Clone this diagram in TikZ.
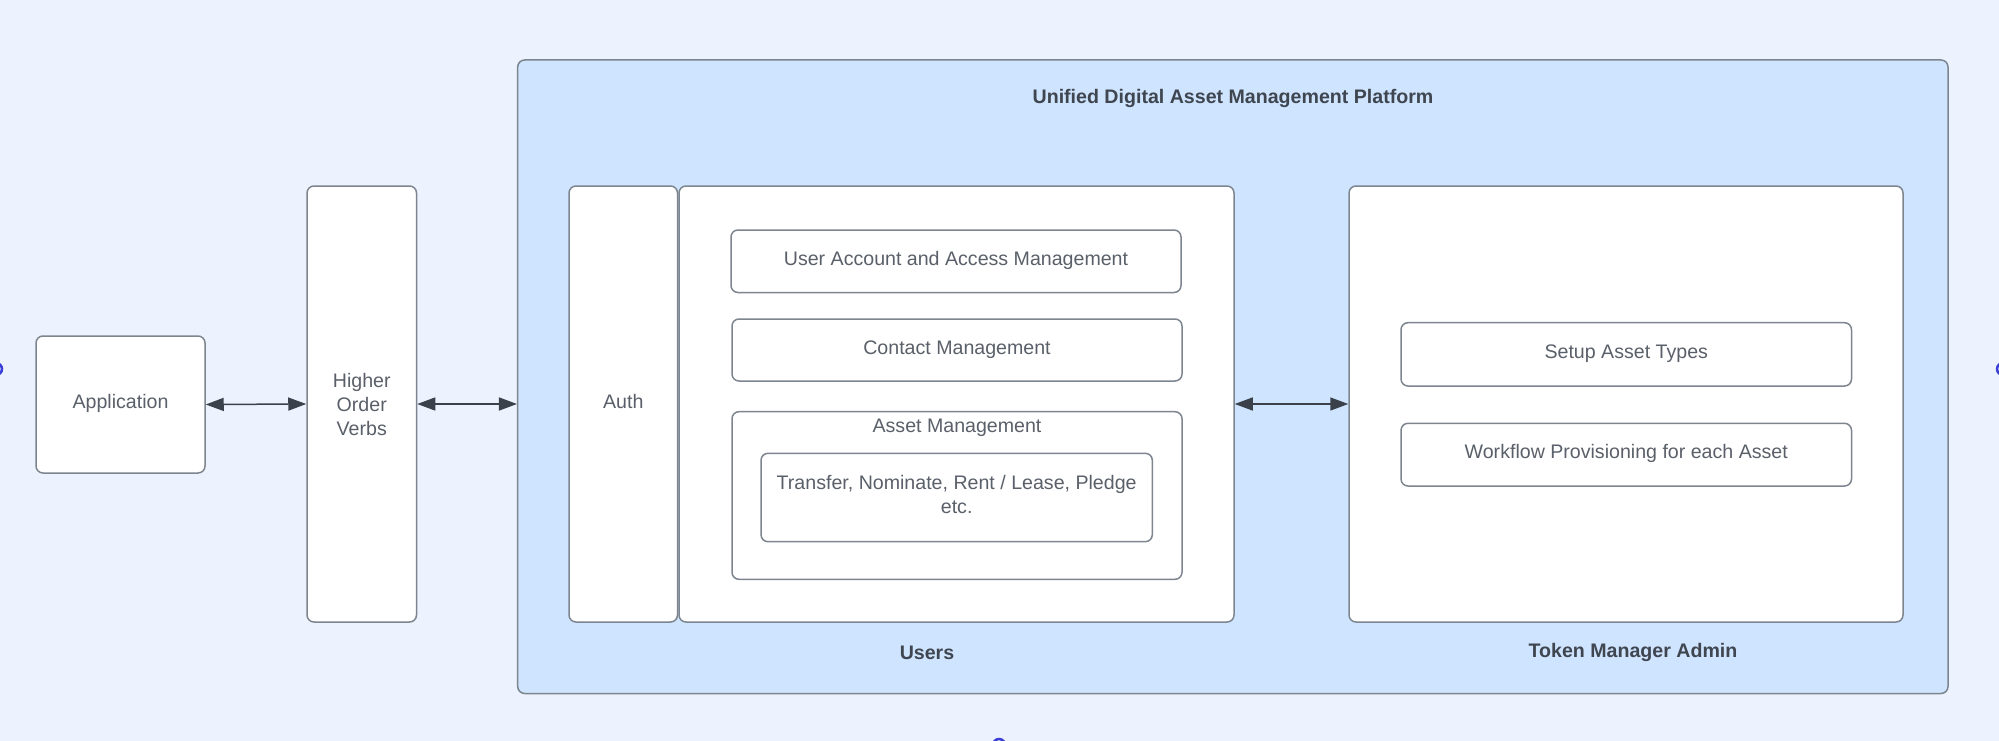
\documentclass[tikz,border=0pt]{standalone}
\usepackage{fontspec}
\setmainfont{Liberation Sans}
\usetikzlibrary{arrows.meta}
\definecolor{bgc}{HTML}{EDF3FE}
\definecolor{platc}{HTML}{CFE4FF}
\definecolor{edgec}{HTML}{7D858F}
\definecolor{txtc}{HTML}{5A6069}
\definecolor{titc}{HTML}{3F4650}
\definecolor{arrc}{HTML}{3A414A}
\definecolor{dotc}{HTML}{3B3FD8}
\begin{document}
\begin{tikzpicture}[x=1pt,y=-1pt,
  box/.style={draw=edgec, line width=1.5pt, fill=white, rounded corners=7pt, inner sep=0pt,
    text=txtc, align=center, font=\fontsize{19.6}{24}\selectfont},
  one/.style={text height=13pt, text depth=5pt},
  txt/.style={text=txtc, inner sep=0pt, align=center, font=\fontsize{19.6}{24}\selectfont},
  lbl/.style={text=titc, inner sep=0pt, font=\fontsize{19.6}{24}\selectfont\bfseries},
  conn/.style={{Triangle[length=18pt,width=13pt]}-{Triangle[length=18pt,width=13pt]}, line width=1.5pt, draw=arrc},
  dot/.style={circle, draw=dotc, line width=2.5pt, minimum size=12pt, inner sep=0pt}]
\useasboundingbox (0,0) rectangle (1999,741);
\fill[bgc] (0,0) rectangle (1999,741);

% outer platform
\node[box, fill=platc, minimum width=1430.3pt, minimum height=633.5pt] (plat) at (1232.85,376.75) {};
\node[lbl] (title) at (1233,98) {Unified Digital Asset Management Platform};

% left boxes
\node[box, one, minimum width=169pt, minimum height=137pt] (app) at (120.5,404.5) {Application};
\node[box, minimum width=109.5pt, minimum height=436pt] (hov) at (361.75,404) {Higher\\Order\\Verbs};

% users side
\node[box, one, minimum width=108.5pt, minimum height=436pt] (auth) at (623.25,404) {Auth};
\node[box, minimum width=555pt, minimum height=436pt] (users) at (956.5,404) {};
\node[box, one, minimum width=450pt, minimum height=62.5pt] (uaam) at (956,261.25) {User Account and Access Management};
\node[box, one, minimum width=450pt, minimum height=62pt] (contact) at (957,350) {Contact Management};
\node[box, minimum width=450pt, minimum height=167.6pt] (asset) at (957,495.5) {};
\node[txt, one] (assett) at (957,428) {Asset Management};
\node[box, minimum width=391.3pt, minimum height=88.4pt] (transfer) at (956.65,497.5) {};
\node[txt, font=\fontsize{19.6}{24.5}\selectfont] (transfert) at (956.65,494.5) {Transfer, Nominate, Rent / Lease, Pledge\\etc.};
\node[lbl] (userslbl) at (927,652.5) {Users};

% token side
\node[box, minimum width=554pt, minimum height=436pt] (token) at (1626,404) {};
\node[box, one, minimum width=450.5pt, minimum height=63.3pt] (setup) at (1626.25,354.35) {Setup Asset Types};
\node[box, one, minimum width=450.5pt, minimum height=62.7pt] (workflow) at (1626.25,454.65) {Workflow Provisioning for each Asset};
\node[lbl] (tokenlbl) at (1633,652.5) {Token Manager Admin};

% connectors
\draw[conn] (app.east) -- (hov.west);
\draw[conn] (hov.east) -- (plat.west |- hov.east);
\draw[conn] (users.east) -- (token.west);

% connection dots at the edges
\node[dot] (d1) at (-4,369) {};
\node[dot] (d2) at (2003,369) {};
\node[dot] (d3) at (999,745) {};
\end{tikzpicture}
\end{document}
